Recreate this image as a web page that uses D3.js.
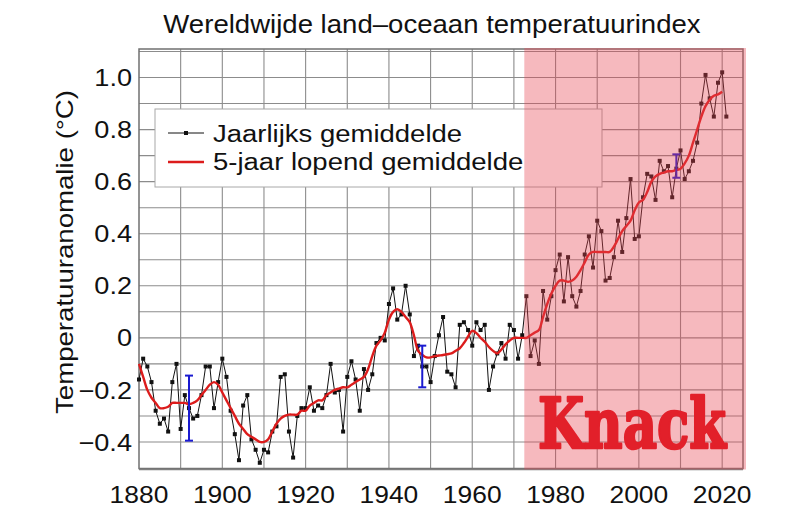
<!DOCTYPE html>
<html>
<head>
<meta charset="utf-8">
<script src="https://cdn.jsdelivr.net/npm/d3@7"></script>
<style>
  body { margin: 0; background: #fff; }
  text { font-family: "Liberation Sans", Arial, sans-serif; }
  text.logo { font-family: "DejaVu Serif", "Liberation Serif", serif; font-weight: bold; }
</style>
</head>
<body>
<svg id="chart" width="800" height="519"></svg>
<script>
// jaartallen 1880..2021
const firstYear = 1880;
const years = d3.range(1880, 2022);

// jaarlijks gemiddelde (anomalie in °C)
const annual = [
  -0.16,-0.08,-0.11,-0.17,-0.28,-0.33,-0.31,-0.36,-0.17,-0.10,
  -0.35,-0.22,-0.27,-0.31,-0.30,-0.22,-0.11,-0.11,-0.27,-0.17,
  -0.08,-0.15,-0.28,-0.37,-0.47,-0.26,-0.22,-0.39,-0.43,-0.48,
  -0.43,-0.44,-0.36,-0.34,-0.15,-0.14,-0.36,-0.46,-0.30,-0.27,
  -0.27,-0.19,-0.28,-0.26,-0.27,-0.22,-0.10,-0.21,-0.20,-0.36,
  -0.15,-0.09,-0.16,-0.28,-0.12,-0.20,-0.14,-0.02,0.00,-0.01,
  0.13,0.19,0.07,0.09,0.20,0.09,-0.07,-0.03,-0.11,-0.11,
  -0.17,-0.07,0.01,0.08,-0.13,-0.14,-0.19,0.05,0.06,0.03,
  -0.03,0.06,0.03,0.05,-0.20,-0.11,-0.06,-0.02,-0.08,0.05,
  0.03,-0.08,0.01,0.16,-0.07,-0.01,-0.10,0.18,0.07,0.16,
  0.26,0.32,0.14,0.31,0.16,0.12,0.18,0.32,0.39,0.27,
  0.45,0.41,0.22,0.23,0.31,0.45,0.33,0.46,0.61,0.38,
  0.39,0.54,0.63,0.62,0.53,0.68,0.64,0.66,0.54,0.65,
  0.72,0.61,0.64,0.68,0.75,0.90,1.01,0.92,0.85,0.98,
  1.02,0.85
];

const smooth = [
  -0.10,-0.15,-0.20,-0.23,-0.25,-0.27,-0.27,-0.265,-0.25,-0.25,
  -0.25,-0.25,-0.255,-0.25,-0.24,-0.22,-0.20,-0.18,-0.17,-0.18,
  -0.21,-0.24,-0.27,-0.30,-0.33,-0.35,-0.37,-0.38,-0.39,-0.40,
  -0.40,-0.39,-0.36,-0.33,-0.31,-0.30,-0.295,-0.295,-0.295,-0.28,
  -0.28,-0.26,-0.25,-0.24,-0.24,-0.22,-0.21,-0.20,-0.195,-0.19,
  -0.19,-0.18,-0.17,-0.16,-0.15,-0.12,-0.07,-0.03,-0.01,0.02,
  0.07,0.10,0.11,0.10,0.08,0.06,0.01,-0.05,-0.065,-0.075,
  -0.075,-0.07,-0.068,-0.066,-0.063,-0.06,-0.05,-0.04,-0.02,0.005,
  0.027,0.018,0.00,-0.015,-0.035,-0.05,-0.06,-0.045,-0.025,-0.01,
  0.00,0.00,0.00,0.00,0.01,0.02,0.03,0.08,0.13,0.17,
  0.20,0.22,0.22,0.215,0.22,0.235,0.26,0.29,0.32,0.33,
  0.33,0.33,0.33,0.33,0.35,0.38,0.41,0.43,0.45,0.49,
  0.52,0.53,0.56,0.60,0.62,0.63,0.635,0.64,0.64,0.645,
  0.65,0.67,0.70,0.75,0.80,0.85,0.89,0.915,0.93,0.935,
  0.945
];

// onzekerheidsmarges (blauw)
const errYears = [1892, 1948, 2009];
const errLo = [-0.395, -0.19, 0.615];
const errHi = [-0.145, -0.03, 0.705];

const xTicks = [1880, 1900, 1920, 1940, 1960, 1980, 2000, 2020];
const yTicks = [-0.4, -0.2, 0, 0.2, 0.4, 0.6, 0.8, 1.0];
const shadeFrom = 1972.5, shadeTo = 2025;

const svg = d3.select("#chart");

const x = d3.scaleLinear().domain([1880, 2025]).range([139, 743]);
const y = d3.scaleLinear().domain([-0.5, 1.1]).range([468, 51.5]);

const plotTop = y(1.1) - 2.5, plotBottom = y(-0.5) + 0.5;

// rekt tekst wat breder uit (origineel is breder dan Liberation Sans)
function stretch(sel, k) {
  sel.each(function () {
    const w = this.getComputedTextLength();
    d3.select(this).attr("textLength", w * k).attr("lengthAdjust", "spacingAndGlyphs");
  });
}

// grid
const grid = svg.append("g");
grid.selectAll(".gx").data(d3.range(1890, 2025, 10)).join("line")
  .attr("x1", d => x(d)).attr("x2", d => x(d))
  .attr("y1", plotTop).attr("y2", plotBottom)
  .attr("stroke", "#8c8c8c").attr("stroke-width", 1.1);
grid.selectAll(".gy").data(d3.range(-4, 12).map(d => d / 10)).join("line")
  .attr("x1", x(1880)).attr("x2", x(2025))
  .attr("y1", d => y(d)).attr("y2", d => y(d))
  .attr("stroke", "#8c8c8c").attr("stroke-width", 1.1);

// kader
svg.append("rect")
  .attr("x", x(1880)).attr("y", plotTop)
  .attr("width", x(2025) - x(1880)).attr("height", plotBottom - plotTop)
  .attr("fill", "none").attr("stroke", "#707070").attr("stroke-width", 1.5);
svg.append("line")
  .attr("x1", x(1880)).attr("x2", x(2025))
  .attr("y1", plotBottom + 1).attr("y2", plotBottom + 1)
  .attr("stroke", "#808080").attr("stroke-width", 1.5);

// assen labels
const yAxis = svg.append("g").attr("transform", `translate(${x(1880) - 7},0)`);
yAxis.selectAll("text").data(yTicks).join("text")
  .attr("x", 0).attr("y", d => y(d)).attr("dy", "0.36em")
  .attr("text-anchor", "end").attr("font-size", 24).attr("fill", "#111")
  .text(d => d === 0 ? "0" : d3.format(".1f")(d).replace("-", "\u2212"))
  .call(stretch, 1.13);

svg.append("g").selectAll("text").data(xTicks).join("text")
  .attr("x", d => x(d)).attr("y", 503)
  .attr("text-anchor", "middle").attr("font-size", 24).attr("fill", "#111")
  .text(d => d)
  .call(stretch, 1.1);

svg.append("text")
  .attr("transform", "translate(73,252) rotate(-90)")
  .attr("text-anchor", "middle").attr("font-size", 24).attr("fill", "#111")
  .text("Temperatuuranomalie (°C)")
  .call(stretch, 1.15);

svg.append("text")
  .attr("x", 432).attr("y", 33)
  .attr("text-anchor", "middle").attr("font-size", 26).attr("fill", "#111")
  .text("Wereldwijde land\u2013oceaan temperatuurindex")
  .call(stretch, 1.06);

// data
const annualData = annual.map((v, i) => ({ year: years[i], v: v }));
const smoothData = smooth.map((v, i) => ({ year: firstYear + i, v: v }));

const line = d3.line().x(d => x(d.year)).y(d => y(d.v));

svg.append("path")
  .datum(annualData)
  .attr("fill", "none").attr("stroke", "#111").attr("stroke-width", 1)
  .attr("d", line);

svg.append("g").selectAll("rect").data(annualData).join("rect")
  .attr("x", d => x(d.year) - 2).attr("y", d => y(d.v) - 2)
  .attr("width", 4).attr("height", 4).attr("fill", "#111");

svg.append("path")
  .datum(smoothData)
  .attr("fill", "none").attr("stroke", "#dc1c1c").attr("stroke-width", 2.4)
  .attr("d", line.curve(d3.curveCatmullRom));

// foutbalken
const eb = svg.append("g").attr("stroke", "#1a1ad0").attr("stroke-width", 2);
errYears.forEach((yr, i) => {
  eb.append("line").attr("x1", x(yr)).attr("x2", x(yr)).attr("y1", y(errLo[i])).attr("y2", y(errHi[i]));
  eb.append("line").attr("x1", x(yr) - 4).attr("x2", x(yr) + 4).attr("y1", y(errLo[i])).attr("y2", y(errLo[i]));
  eb.append("line").attr("x1", x(yr) - 4).attr("x2", x(yr) + 4).attr("y1", y(errHi[i])).attr("y2", y(errHi[i]));
});

// legende
const lg = svg.append("g");
lg.append("rect")
  .attr("x", 155).attr("y", 109).attr("width", 447).attr("height", 78)
  .attr("fill", "#fff").attr("stroke", "#a8a8a8").attr("stroke-width", 1);
lg.append("line").attr("x1", 168).attr("x2", 204).attr("y1", 133).attr("y2", 133)
  .attr("stroke", "#111").attr("stroke-width", 1);
lg.append("rect").attr("x", 184).attr("y", 131).attr("width", 4).attr("height", 4).attr("fill", "#111");
lg.append("line").attr("x1", 168).attr("x2", 204).attr("y1", 162).attr("y2", 162)
  .attr("stroke", "#dc1c1c").attr("stroke-width", 2.4);
lg.append("text").attr("x", 213).attr("y", 141.5).attr("font-size", 23.5).attr("fill", "#111")
  .text("Jaarlijks gemiddelde").call(stretch, 1.17);
lg.append("text").attr("x", 213).attr("y", 169.5).attr("font-size", 23.5).attr("fill", "#111")
  .text("5-jaar lopend gemiddelde").call(stretch, 1.17);

// roze zone over alles heen
svg.append("rect")
  .attr("x", x(shadeFrom)).attr("y", plotTop - 1)
  .attr("width", x(shadeTo) - x(shadeFrom) + 3).attr("height", plotBottom - plotTop + 2)
  .attr("fill", "rgb(232,70,85)").attr("fill-opacity", 0.38);

// logo (dikker gemaakt met een stroke)
svg.append("text")
  .attr("class", "logo")
  .attr("x", 538).attr("y", 448)
  .attr("font-size", 70).attr("fill", "#e2202a")
  .attr("stroke", "#e2202a").attr("stroke-width", 2.6).attr("stroke-linejoin", "round")
  .attr("textLength", 188).attr("lengthAdjust", "spacingAndGlyphs")
  .text("Knack");
</script>
</body>
</html>
